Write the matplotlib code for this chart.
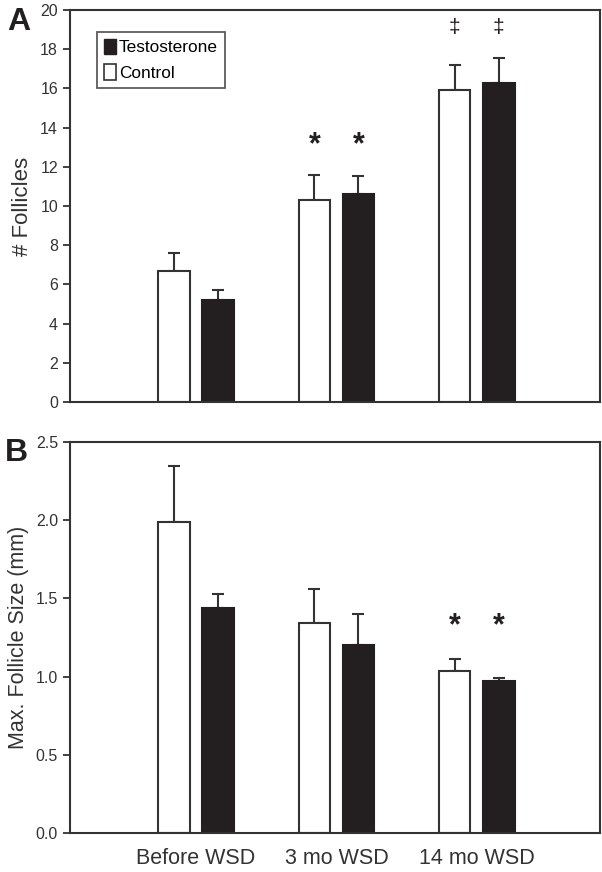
import matplotlib.pyplot as plt
import matplotlib.patches as mpatches
import numpy as np

plt.rcParams['font.family'] = ['Liberation Sans', 'DejaVu Sans']

groups = ["Before WSD", "3 mo WSD", "14 mo WSD"]

# panel A: number of follicles
ctrl_n = [6.68, 10.3, 15.9]
ctrl_n_err = [0.92, 1.3, 1.3]
test_n = [5.2, 10.6, 16.3]
test_n_err = [0.5, 0.95, 1.25]
marks_n = ["", "*", "\u2021"]

# panel B: max follicle size (mm)
ctrl_s = [1.99, 1.34, 1.035]
ctrl_s_err = [0.36, 0.22, 0.08]
test_s = [1.44, 1.20, 0.97]
test_s_err = [0.09, 0.20, 0.02]
marks_s = ["", "", "*"]

dark = "#231f20"
edge = "#333333"

fig = plt.figure(figsize=(6.02, 8.72), dpi=100)
axA = fig.add_axes([0.116, 0.539, 0.881, 0.4495])
axB = fig.add_axes([0.116, 0.0447, 0.881, 0.4483])

x = np.arange(len(groups))
w = 0.225
off = 0.157


def draw(ax, c, ce, t, te, marks, mark_y, fs, fw):
    ax.bar(x - off, c, w, color="white", edgecolor=edge, linewidth=1.5, zorder=2)
    ax.bar(x + off, t, w, color=dark, edgecolor=dark, linewidth=1.5, zorder=2)
    ax.errorbar(x - off, c, yerr=[np.zeros(3), ce], fmt="none", ecolor=edge,
                elinewidth=1.5, capsize=4.5, capthick=1.5, zorder=1)
    ax.errorbar(x + off, t, yerr=[np.zeros(3), te], fmt="none", ecolor=edge,
                elinewidth=1.5, capsize=4.5, capthick=1.5, zorder=1)
    for i, m in enumerate(marks):
        if m:
            for xx in (x[i] - off, x[i] + off):
                ax.text(xx, mark_y[i], m, ha="center", va="center",
                        fontsize=fs[i], fontweight=fw[i], color=dark)
    ax.set_xlim(-0.9, 2.88)
    for s in ax.spines.values():
        s.set_linewidth(1.5)
        s.set_color(edge)
    ax.tick_params(axis="y", direction="out", length=5, width=1.3, color=edge,
                   labelsize=11.5, labelcolor="#333333")
    ax.tick_params(axis="x", length=0)


draw(axA, ctrl_n, ctrl_n_err, test_n, test_n_err, marks_n,
     [0, 13.1, 19.1], [0, 22, 15], ["normal", "bold", "normal"])
axA.set_ylim(0, 20)
axA.set_yticks(range(0, 21, 2))
axA.set_xticks([])
axA.set_ylabel("# Follicles", fontsize=16, color="#333333", labelpad=5)

leg_handles = [mpatches.Patch(facecolor=dark, edgecolor=dark, label="Testosterone"),
               mpatches.Patch(facecolor="white", edgecolor=edge, linewidth=1.2, label="Control")]
leg = axA.legend(handles=leg_handles, loc="upper left", bbox_to_anchor=(0.035, 0.966),
                 fontsize=12.4, frameon=True, fancybox=False, handlelength=0.75,
                 handleheight=1.05, handletextpad=0.15, borderpad=0.38, labelspacing=0.52)
leg.get_frame().set_edgecolor(edge)
leg.get_frame().set_linewidth(1.3)

draw(axB, ctrl_s, ctrl_s_err, test_s, test_s_err, marks_s,
     [0, 0, 1.32], [0, 0, 22], ["normal", "normal", "bold"])
axB.set_ylim(0, 2.5)
axB.set_yticks(np.arange(0, 2.51, 0.5))
axB.set_yticklabels(["%.1f" % v for v in np.arange(0, 2.51, 0.5)])
axB.set_xticks(x)
axB.set_xticklabels(groups, fontsize=15.5, color="#333333")
axB.tick_params(axis="x", pad=11)
axB.set_ylabel("Max. Follicle Size (mm)", fontsize=15.5, color="#333333", labelpad=5)

fig.text(0.031, 0.975, "A", fontsize=23, fontweight="bold", ha="center", va="center", color=dark)
fig.text(0.028, 0.480, "B", fontsize=23, fontweight="bold", ha="center", va="center", color=dark)

fig.savefig("out.png", dpi=100)
